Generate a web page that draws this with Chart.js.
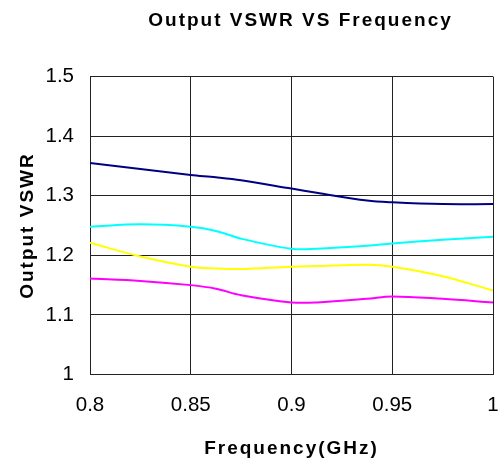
<!DOCTYPE html>
<html><head><meta charset="utf-8">
<script src="https://cdn.jsdelivr.net/npm/chart.js@4/dist/chart.umd.min.js"></script>
<style>html,body{margin:0;padding:0;background:#fff;}</style>
</head><body>
<canvas id="c" width="500" height="462"></canvas>
<script>
// ---- data ----
const frequencies = [0.8, 0.825, 0.85, 0.8625, 0.875, 0.9, 0.9125, 0.9375, 0.95, 0.975, 1.0];
const navySeries    = [1.355, 1.345, 1.335, 1.331, 1.326, 1.312, 1.305, 1.292, 1.289, 1.286, 1.286];
const cyanSeries    = [1.248, 1.252, 1.248, 1.241, 1.228, 1.211, 1.211, 1.216, 1.220, 1.226, 1.231];
const yellowSeries  = [1.221, 1.198, 1.181, 1.178, 1.177, 1.181, 1.182, 1.184, 1.181, 1.165, 1.141];
const magentaSeries = [1.161, 1.157, 1.150, 1.144, 1.133, 1.121, 1.121, 1.127, 1.131, 1.127, 1.121];
const xTicks = [0.8, 0.85, 0.9, 0.95, 1.0];
const xTickLabels = ['0.8', '0.85', '0.9', '0.95', '1'];
const yTicks = [1, 1.1, 1.2, 1.3, 1.4, 1.5];
const yTickLabels = ['1', '1.1', '1.2', '1.3', '1.4', '1.5'];
const chartTitle = 'Output VSWR VS Frequency';
const xTitle = 'Frequency(GHz)';
const yTitle = 'Output VSWR';

const toPoints = (vals) => frequencies.map((f, i) => ({x: f, y: vals[i]}));
const seriesDefs = [
  {label: 'Series1', values: navySeries, color: '#000080'},
  {label: 'Series2', values: cyanSeries, color: '#00FFFF'},
  {label: 'Series3', values: yellowSeries, color: '#FFFF00'},
  {label: 'Series4', values: magentaSeries, color: '#FF00FF'}
];

const spacingPlugin = {
  id: 'spacing',
  afterLayout(chart) {
    if (chart.titleBlock) { chart.titleBlock.left += 9; chart.titleBlock.right += 9; }
  },
  beforeDraw(chart) { chart.ctx.letterSpacing = '2px'; },
  afterDatasetsDraw(chart) { chart.ctx.letterSpacing = '0px'; }
};

const boldFont = {family: "'Liberation Sans', Arial, sans-serif", size: 19, weight: 'bold'};
const tickFont = {family: "'Liberation Sans', Arial, sans-serif", size: 20.5};

new Chart(document.getElementById('c'), {
  type: 'line',
  data: {
    datasets: seriesDefs.map(s => ({
      label: s.label,
      data: toPoints(s.values),
      borderColor: s.color,
      backgroundColor: s.color,
      borderWidth: 2,
      pointRadius: 0,
      tension: 0.35,
      fill: false
    }))
  },
  options: {
    responsive: false,
    devicePixelRatio: 1,
    animation: false,
    layout: {padding: {left: 0, right: 7, top: 0, bottom: 0}},
    plugins: {
      legend: {display: false},
      tooltip: {enabled: false},
      title: {
        display: true, text: chartTitle, color: '#000', font: boldFont,
        fullSize: false, padding: {top: 9, bottom: 44.8}
      }
    },
    scales: {
      x: {
        type: 'linear', min: 0.8, max: 1.0,
        afterBuildTicks: (scale) => { scale.ticks = xTicks.map(v => ({value: v})); },
        afterFit: (scale) => { scale.height = 87.5; scale.paddingLeft = 0; scale.paddingRight = 0; },
        ticks: {
          color: '#000', font: tickFont, padding: 19, z: 1, maxRotation: 0,
          callback: (v) => xTickLabels[xTicks.findIndex(t => Math.abs(t - v) < 1e-9)]
        },
        grid: {color: '#222', lineWidth: 1, drawTicks: false},
        border: {color: '#222', width: 1},
        title: {display: true, text: xTitle, color: '#000', font: boldFont, padding: {top: 10, bottom: 2}}
      },
      y: {
        type: 'linear', min: 1, max: 1.5,
        afterBuildTicks: (scale) => { scale.ticks = yTicks.map(v => ({value: v})); },
        afterFit: (scale) => { scale.width = 90; scale.paddingTop = 0; scale.paddingBottom = 0; },
        ticks: {
          color: '#000', font: tickFont, padding: 16, z: 1,
          callback: (v) => yTickLabels[yTicks.findIndex(t => Math.abs(t - v) < 1e-9)]
        },
        grid: {color: '#222', lineWidth: 1, drawTicks: false},
        border: {color: '#222', width: 1},
        title: {display: true, text: yTitle, color: '#000', font: boldFont, padding: {top: 16.5, bottom: 2}}
      }
    }
  },
  plugins: [spacingPlugin]
});
</script>
</body></html>
